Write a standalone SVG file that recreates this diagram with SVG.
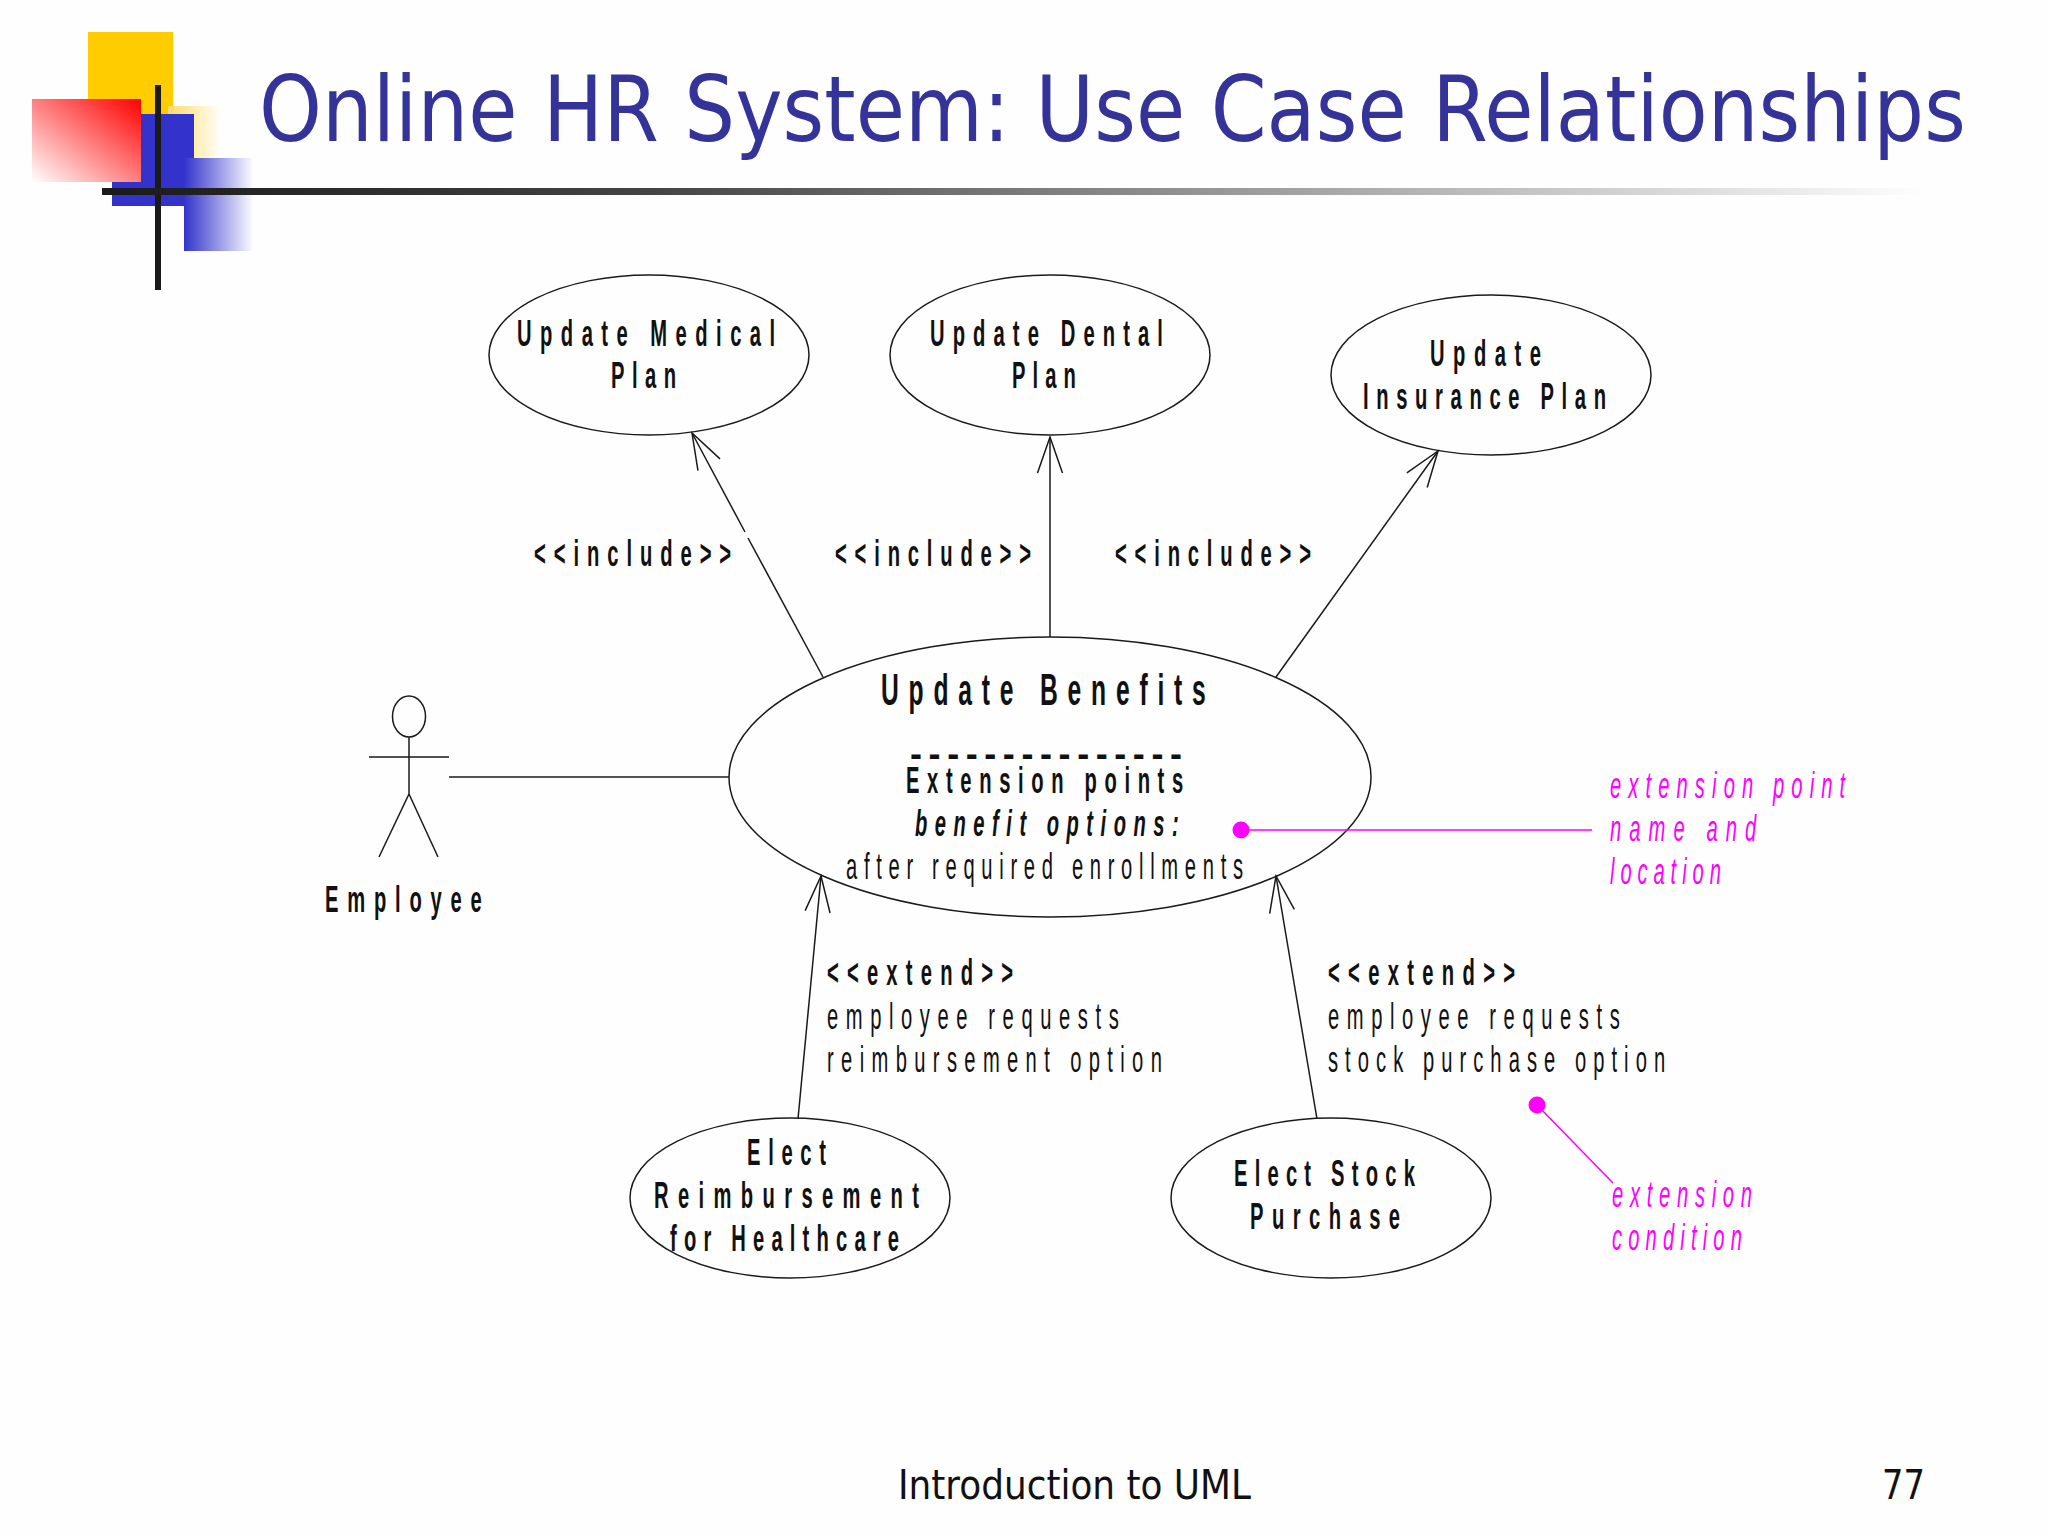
<svg xmlns="http://www.w3.org/2000/svg" width="2048" height="1536" viewBox="0 0 2048 1536">
<defs>
<style>
.n{fill:none;stroke:#1a1a1a;stroke-width:1.5}
.l{stroke:#1a1a1a;stroke-width:1.5;fill:none}
.m{stroke:#ff00ff;stroke-width:1.5;fill:none}
text{font-family:"Liberation Sans",Arial,sans-serif;font-size:36px;fill:#111}
.b{font-weight:bold}
.big{font-size:44px;font-weight:bold}
.i{font-style:italic}
.p{fill:#ff00ff;font-style:italic}
.s{font-family:"DejaVu Sans",sans-serif;font-size:40px;fill:#111}
.t{font-family:"DejaVu Sans",sans-serif;font-size:90px;fill:#333399}
</style>
<marker id="open" markerUnits="userSpaceOnUse" markerWidth="44" markerHeight="34" refX="40" refY="17" orient="auto"><path d="M4 4.5L40 17L4 29.5" fill="none" stroke="#1a1a1a" stroke-width="1.5"/></marker>
<linearGradient id="gy" x1="0" x2="1" y1="0" y2="0"><stop offset="0" stop-color="#ffdc66"/><stop offset="1" stop-color="#ffffff"/></linearGradient>
<linearGradient id="gb" x1="0" x2="1" y1="0" y2="0"><stop offset="0" stop-color="#3333cc"/><stop offset="1" stop-color="#ffffff"/></linearGradient>
<linearGradient id="gr" x1="1" x2="0" y1="0" y2="1"><stop offset="0" stop-color="#ff0000"/><stop offset="1" stop-color="#ffffff"/></linearGradient>
<linearGradient id="gl" x1="0" x2="1" y1="0" y2="0"><stop offset="0" stop-color="#1a1a1a"/><stop offset=".3" stop-color="#444"/><stop offset="1" stop-color="#fff"/></linearGradient>
</defs>
<rect width="2048" height="1536" fill="#fefefe"/>
<g id="decor">
<rect x="88" y="32" width="85" height="82" fill="#ffcc00"/>
<rect x="168" y="106" width="54" height="54" fill="url(#gy)"/>
<rect x="112" y="114" width="82" height="92" fill="#3333cc"/>
<rect x="184" y="158" width="70" height="93" fill="url(#gb)"/>
<rect x="32" y="99" width="109" height="83" fill="url(#gr)"/>
<rect x="155" y="85" width="6" height="205" fill="#1a1a1a"/>
<rect x="102" y="188" width="1830" height="7" fill="url(#gl)"/>
</g>
<text id="title" class="t" transform="matrix(.8885 0 0 1 259 141)" textLength="1921">Online HR System: Use Case Relationships</text>
<g id="connectors">
<path class="l" d="M823 677L748 538"/><path class="l" d="M745 532L692 433" marker-end="url(#open)"/>
<path class="l" d="M1050 637V437" marker-end="url(#open)"/>
<path class="l" d="M1276 677L1438 451" marker-end="url(#open)"/>
<path class="l" d="M449 777H729"/>
<path class="l" d="M798 1119L821 876" marker-end="url(#open)"/>
<path class="l" d="M1317 1119L1276 876" marker-end="url(#open)"/>
</g>
<g id="medical"><ellipse class="n" cx="649" cy="355" rx="160" ry="80"/>
<text class="b" transform="matrix(.56 0 0 1 517 346)" textLength="461">Update Medical</text><text class="b" transform="matrix(.56 0 0 1 611 388)" textLength="116">Plan</text></g>
<g id="dental"><ellipse class="n" cx="1050" cy="355" rx="160" ry="80"/>
<text class="b" transform="matrix(.56 0 0 1 930 346)" textLength="416">Update Dental</text><text class="b" transform="matrix(.56 0 0 1 1012 388)" textLength="114">Plan</text></g>
<g id="insurance"><ellipse class="n" cx="1491" cy="375" rx="160" ry="80"/>
<text class="b" transform="matrix(.56 0 0 1 1430 366)" textLength="198">Update</text><text class="b" transform="matrix(.56 0 0 1 1363 409)" textLength="434">Insurance Plan</text></g>
<g id="benefits"><ellipse class="n" cx="1050" cy="777" rx="321" ry="140"/>
<text class="big" transform="matrix(.56 0 0 1 881 705)" textLength="580">Update Benefits</text>
<text class="b" x="910" y="766" textLength="272">---------------</text>
<text class="b" transform="matrix(.56 0 0 1 906 793)" textLength="495">Extension points</text>
<text class="b i" transform="matrix(.56 0 0 1 915 836)" textLength="471">benefit options:</text>
<text transform="matrix(.56 0 0 1 846 879)" textLength="709">after required enrollments</text></g>
<g id="employee"><ellipse class="n" cx="409" cy="716.500" rx="16.500" ry="20.500"/><path class="l" d="M409 737V794M369 757H449M379 857L409 794L438 857"/>
<text class="b" transform="matrix(.56 0 0 1 325 912)" textLength="280">Employee</text></g>
<g id="reimb"><ellipse class="n" cx="790" cy="1198" rx="160" ry="80"/>
<text class="b" transform="matrix(.56 0 0 1 747 1165)" textLength="141">Elect</text><text class="b" transform="matrix(.56 0 0 1 654 1208)" textLength="473">Reimbursement</text><text class="b" transform="matrix(.56 0 0 1 670 1251)" textLength="409">for Healthcare</text></g>
<g id="stock"><ellipse class="n" cx="1331" cy="1198" rx="160" ry="80"/>
<text class="b" transform="matrix(.56 0 0 1 1234 1186)" textLength="323">Elect Stock</text><text class="b" transform="matrix(.56 0 0 1 1250 1229)" textLength="268">Purchase</text></g>
<g id="labels">
<text class="b" transform="matrix(.56 0 0 1 534 566)" textLength="352">&lt;&lt;include&gt;&gt;</text>
<text class="b" transform="matrix(.56 0 0 1 835 566)" textLength="350">&lt;&lt;include&gt;&gt;</text>
<text class="b" transform="matrix(.56 0 0 1 1115 566)" textLength="350">&lt;&lt;include&gt;&gt;</text>
<text class="b" transform="matrix(.56 0 0 1 827 985)" textLength="332">&lt;&lt;extend&gt;&gt;</text>
<text transform="matrix(.56 0 0 1 827 1029)" textLength="521">employee requests</text>
<text transform="matrix(.56 0 0 1 827 1072)" textLength="598">reimbursement option</text>
<text class="b" transform="matrix(.56 0 0 1 1328 985)" textLength="334">&lt;&lt;extend&gt;&gt;</text>
<text transform="matrix(.56 0 0 1 1328 1029)" textLength="521">employee requests</text>
<text transform="matrix(.56 0 0 1 1328 1072)" textLength="602">stock purchase option</text>
</g>
<g id="notes">
<circle cx="1241" cy="830" r="8.500" fill="#ff00ff"/><path class="m" d="M1241 830H1592"/>
<circle cx="1537" cy="1105" r="8.500" fill="#ff00ff"/><path class="m" d="M1537 1105L1613 1183"/>
<text class="p" transform="matrix(.56 0 0 1 1610 798)" textLength="420">extension point</text>
<text class="p" transform="matrix(.56 0 0 1 1610 841)" textLength="261">name and</text>
<text class="p" transform="matrix(.56 0 0 1 1610 884)" textLength="198">location</text>
<text class="p" transform="matrix(.56 0 0 1 1612 1207)" textLength="250">extension</text>
<text class="p" transform="matrix(.56 0 0 1 1612 1250)" textLength="232">condition</text>
</g>
<text id="footer" class="s" x="898" y="1499" textLength="353" lengthAdjust="spacingAndGlyphs">Introduction to UML</text>
<text id="page" class="s" x="1882" y="1499" textLength="43" lengthAdjust="spacingAndGlyphs">77</text>
</svg>
